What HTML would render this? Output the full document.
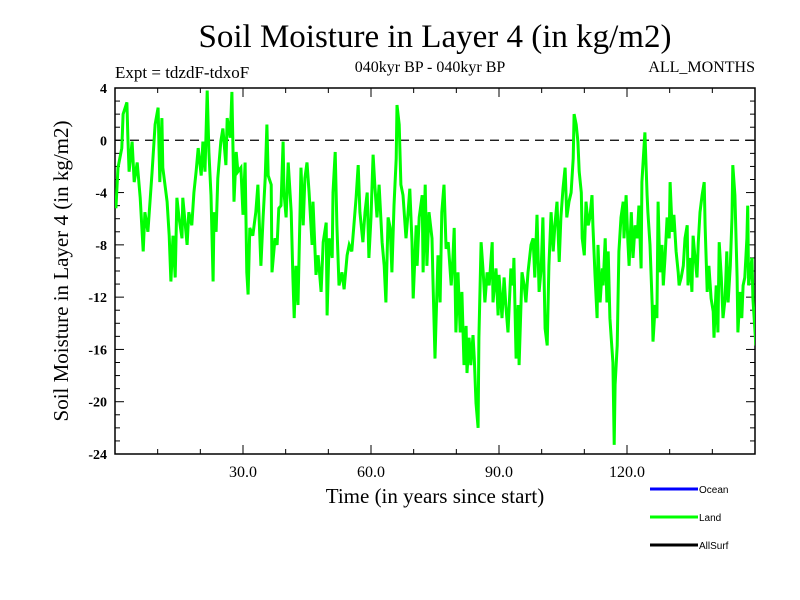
<!DOCTYPE html>
<html><head><meta charset="utf-8"><style>
body{margin:0;background:#fff;}
svg{display:block;}
text{font-family:"Liberation Serif",serif;fill:#000;}
.sans{font-family:"Liberation Sans",sans-serif;}
</style></head><body>
<svg id="chart" width="800" height="600" viewBox="0 0 800 600">
<text x="435" y="47" font-size="33" text-anchor="middle">Soil Moisture in Layer 4 (in kg/m2)</text>
<text x="115" y="78" font-size="17">Expt = tdzdF-tdxoF</text>
<text x="430" y="72" font-size="16" text-anchor="middle">040kyr BP - 040kyr BP</text>
<text x="755" y="72" font-size="16" text-anchor="end">ALL_MONTHS</text>
<text transform="translate(68,271) rotate(-90)" font-size="21" text-anchor="middle">Soil Moisture in Layer 4 (in kg/m2)</text>
<text x="435" y="503" font-size="21" text-anchor="middle">Time (in years since start)</text>
<g id="axes"></g>
<g id="series"></g>
<g>
<line x1="650" y1="489" x2="698" y2="489" stroke="#0000ff" stroke-width="3"/>
<text class="sans" x="699" y="493" font-size="10">Ocean</text>
<line x1="650" y1="517" x2="698" y2="517" stroke="#00ff00" stroke-width="3"/>
<text class="sans" x="699" y="521" font-size="10">Land</text>
<line x1="650" y1="545" x2="698" y2="545" stroke="#000" stroke-width="3"/>
<text class="sans" x="699" y="549" font-size="10">AllSurf</text>
</g>
</svg>
<script>
const xTickLabels = [30, 60, 90, 120];
const yTickLabels = [4, 0, -4, -8, -12, -16, -20, -24];
const years = [0.2,0.7,1.6,1.9,2.8,3.0,3.3,4.0,4.5,5.2,5.9,6.6,7.0,7.7,8.7,9.4,10.1,10.5,11.0,11.2,12.2,12.7,13.1,13.6,14.1,14.5,15.0,15.7,15.9,16.9,17.3,18.0,18.5,19.0,19.5,20.2,20.6,21.1,21.6,22.0,22.5,23.0,23.2,23.7,24.1,24.8,25.3,26.0,26.3,27.0,27.4,27.9,28.4,28.8,29.5,30.0,30.5,30.9,31.2,31.6,32.3,33.0,33.5,34.2,34.7,35.2,35.6,35.9,36.6,36.8,37.5,38.0,38.4,
38.9,39.4,39.6,40.1,40.6,41.3,41.7,42.0,42.4,42.9,43.6,44.1,44.5,45.0,45.5,46.2,46.4,47.1,47.6,48.3,48.8,49.5,49.7,50.2,50.9,51.1,51.6,52.0,52.5,53.2,53.7,54.4,54.9,55.5,56.0,56.5,57.0,57.4,58.1,58.6,59.1,59.5,60.0,60.5,60.9,61.4,61.9,62.6,63.1,63.5,64.0,64.5,64.9,65.4,65.9,66.1,66.6,67.0,67.5,68.2,68.7,69.1,69.6,69.9,70.6,70.8,71.3,72.0,72.2,72.7,73.1,73.6,74.3,74.5,75.0,75.2,75.7,76.2,
76.6,77.1,77.6,78.1,78.8,79.2,79.5,79.9,80.4,80.9,81.3,81.8,82.3,82.5,83.0,83.4,83.9,84.2,84.6,85.1,85.3,85.8,86.3,86.7,87.2,87.7,88.4,88.6,89.3,89.8,90.0,90.7,91.2,91.6,92.1,92.8,93.3,93.5,94.0,94.5,94.7,95.4,95.9,96.3,96.8,97.5,98.0,98.4,98.9,99.4,99.9,100.3,100.8,101.3,101.7,102.2,102.7,103.1,103.6,104.1,104.5,105.0,105.5,105.9,106.4,106.9,107.4,107.6,108.1,108.5,108.8,109.3,109.5,110.0,110.4,110.9,
111.3,111.8,112.0,112.5,113.0,113.2,113.7,114.2,114.4,114.9,115.3,115.6,116.0,116.3,116.7,117.0,117.2,117.7,118.1,118.6,119.1,119.3,119.8,120.2,120.5,121.0,121.4,121.9,122.4,122.8,123.3,123.5,124.0,124.2,124.7,124.9,125.4,125.9,126.1,126.6,127.0,127.3,127.7,128.2,128.5,128.9,129.4,129.9,130.1,130.6,131.0,131.5,132.0,132.2,132.7,133.2,133.6,134.1,134.3,134.8,135.2,135.5,135.9,136.4,136.7,137.1,137.6,138.1,138.3,138.8,139.2,139.7,140.2,140.4,140.9,141.3,141.6,142.1,142.5,143.0,143.4,143.7,144.2,144.6,144.8,145.3,145.8,146.0,146.5,146.9,147.2,147.6,148.1,148.3,148.5,149.3,149.5,150.2];
const landValues = [-5.2,-2.1,-0.6,2.0,2.9,0.4,-2.4,-0.1,-3.2,-1.7,-4.4,-8.5,-5.5,-7.0,-2.4,1.2,2.5,-3.2,1.7,-2.1,-4.7,-7.3,-10.8,-7.3,-10.5,-4.4,-5.9,-7.5,-4.4,-8.0,-5.5,-6.5,-4.0,-2.4,-0.6,-2.7,-0.1,-2.4,3.8,-0.9,-4.2,-10.8,-5.5,-7.0,-2.9,-0.1,0.9,-1.9,1.7,0.2,3.7,-4.7,-0.9,-2.4,-2.1,-5.7,-1.7,-10.1,-11.8,-6.7,-7.3,-5.5,-3.4,-9.6,-5.9,-2.9,1.2,-2.7,-3.4,-10.1,-7.5,-8.0,-5.2,
-5.0,-0.1,-4.0,-5.9,-1.7,-5.5,-10.5,-13.6,-9.6,-12.6,-2.1,-6.5,-2.9,-1.7,-4.0,-8.0,-4.7,-10.3,-8.8,-11.6,-7.8,-6.3,-13.4,-7.5,-9.0,-4.0,-0.9,-6.5,-11.1,-10.1,-11.4,-8.8,-8.0,-8.5,-6.5,-4.4,-1.9,-5.5,-7.8,-5.5,-4.0,-9.0,-5.9,-1.1,-3.4,-5.9,-3.4,-7.8,-9.6,-12.4,-5.9,-6.7,-10.1,-5.0,-1.4,2.7,1.2,-3.4,-4.2,-7.5,-5.5,-3.7,-7.8,-12.1,-6.5,-9.6,-5.9,-4.2,-10.1,-3.4,-9.6,-5.5,-7.5,-10.5,-16.7,-14.2,-8.8,-12.4,
-5.5,-3.4,-8.3,-7.8,-11.1,-9.0,-6.7,-14.7,-10.1,-14.7,-11.6,-17.2,-14.2,-17.8,-15.1,-17.2,-14.9,-16.7,-20.1,-22.0,-15.1,-7.8,-10.1,-12.4,-10.1,-11.1,-7.8,-12.4,-9.8,-13.4,-10.3,-13.6,-10.5,-12.6,-14.7,-9.8,-11.1,-9.0,-16.7,-12.6,-17.2,-10.1,-11.1,-12.4,-10.1,-8.0,-7.5,-10.5,-5.7,-11.6,-9.8,-5.9,-14.4,-15.7,-9.6,-5.5,-8.5,-6.5,-4.7,-9.3,-5.9,-3.7,-2.1,-5.9,-4.7,-4.0,-1.4,2.0,1.2,-0.1,-2.4,-4.0,-7.5,-8.8,-4.7,-6.5,
-5.9,-4.2,-6.5,-10.3,-13.6,-8.0,-12.4,-9.8,-11.1,-7.5,-12.4,-8.5,-13.6,-15.1,-17.0,-23.3,-18.7,-15.7,-8.5,-5.9,-4.7,-7.5,-4.2,-7.8,-9.6,-5.5,-9.0,-6.5,-7.5,-5.0,-9.8,-3.2,-0.4,0.6,-4.2,-5.5,-8.0,-12.6,-15.4,-12.6,-13.6,-4.7,-10.1,-8.0,-11.1,-9.0,-5.9,-7.5,-3.2,-7.0,-5.7,-8.5,-10.1,-11.1,-10.5,-9.6,-7.5,-6.5,-11.1,-9.0,-11.6,-7.3,-8.8,-10.5,-7.8,-5.5,-4.2,-3.2,-6.5,-11.6,-9.6,-12.1,-13.1,-15.1,-11.1,-14.7,-7.8,-10.5,-13.6,-12.1,-8.5,-12.4,-9.6,-5.9,-1.9,-4.2,-10.5,-14.7,-11.6,-13.6,-11.1,-10.5,-7.5,-5.0,-11.1,-9.0,-12.1,-15.7];

const NS = 'http://www.w3.org/2000/svg';
const L = 115, R = 755, T = 88, B = 454;
const xMin = 0, xMax = 150, yMin = -24, yMax = 4;
function sx(v){ return L + (v - xMin) / (xMax - xMin) * (R - L); }
function sy(v){ return B - (v - yMin) / (yMax - yMin) * (B - T); }
function mk(tag, attrs, parent){
  const e = document.createElementNS(NS, tag);
  for (const k in attrs) e.setAttribute(k, attrs[k]);
  parent.appendChild(e);
  return e;
}
const axes = document.getElementById('axes');
const series = document.getElementById('series');

const frame = mk('rect', {x:L, y:T, width:R-L, height:B-T, fill:'none', stroke:'#000', 'stroke-width':1.5}, axes);



for (let v = xMin + 10; v < xMax; v += 10) {
  const major = v % 30 === 0;
  const len = major ? 9 : 5;
  const t1 = mk('line', {x1:sx(v), x2:sx(v), y1:B, y2:B-len, stroke:'#000', 'stroke-width':1}, axes);
  
  
  const t2 = mk('line', {x1:sx(v), x2:sx(v), y1:T, y2:T+len, stroke:'#000', 'stroke-width':1}, axes);
  
  
}
xTickLabels.forEach(v => {
  const t = mk('text', {x:sx(v), y:B+23, 'font-size':16, 'text-anchor':'middle'}, axes);
  t.textContent = v.toFixed(1);
  
  
});
for (let v = yMin + 1; v < yMax; v += 1) {
  const major = v % 4 === 0;
  const len = major ? 9 : 5;
  const t1 = mk('line', {x1:L, x2:L+len, y1:sy(v), y2:sy(v), stroke:'#000', 'stroke-width':1}, axes);
  
  
  const t2 = mk('line', {x1:R, x2:R-len, y1:sy(v), y2:sy(v), stroke:'#000', 'stroke-width':1}, axes);
  
  
}
yTickLabels.forEach(v => {
  const t = mk('text', {x:L-8, y:sy(v)+5, 'font-size':14, 'font-weight':'bold', 'text-anchor':'end'}, axes);
  t.textContent = String(v);
  
  
});
const zero = mk('line', {x1:L, x2:R, y1:sy(0), y2:sy(0), stroke:'#000', 'stroke-width':1.2, 'stroke-dasharray':'9,6'}, axes);



const defs = mk('defs', {}, series);
const cp = mk('clipPath', {id:'clip'}, defs);
mk('rect', {x:L, y:T, width:R-L, height:B-T}, cp);
let d = '';
years.forEach((yr, i) => { d += (i ? 'L' : 'M') + sx(yr).toFixed(1) + ',' + sy(landValues[i]).toFixed(1); });
const path = mk('path', {d:d, fill:'none', stroke:'#00ff00', 'stroke-width':3, 'stroke-linejoin':'miter', 'clip-path':'url(#clip)'}, series);


</script>
</body></html>
